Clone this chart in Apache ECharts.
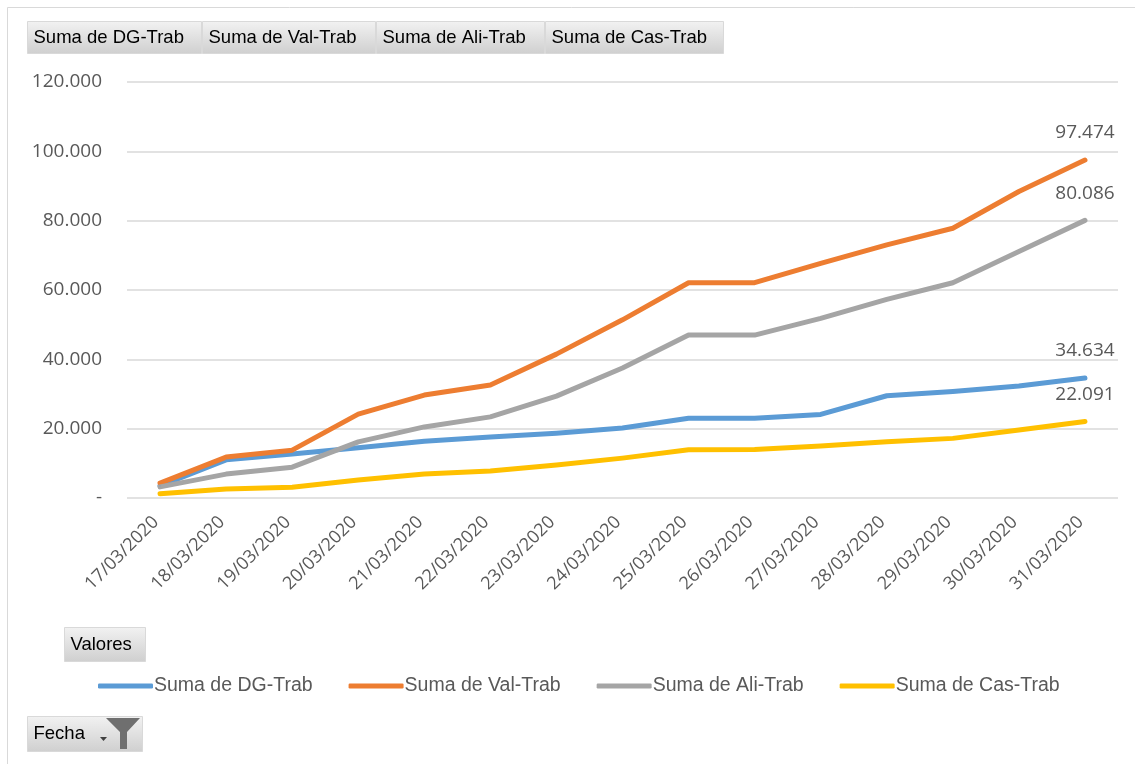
<!DOCTYPE html>
<html>
<head>
<meta charset="utf-8">
<script src="https://cdn.jsdelivr.net/npm/echarts@6/dist/echarts.min.js"></script>
<style>
  html, body { margin: 0; padding: 0; background: #fff; }
  #chart { width: 1135px; height: 764px; }
</style>
</head>
<body>
<div id="chart"></div>
<script>
const dates = ['17/03/2020', '18/03/2020', '19/03/2020', '20/03/2020', '21/03/2020', '22/03/2020', '23/03/2020',
  '24/03/2020', '25/03/2020', '26/03/2020', '27/03/2020', '28/03/2020', '29/03/2020', '30/03/2020', '31/03/2020']

const seriesNames = ['Suma de DG-Trab', 'Suma de Val-Trab', 'Suma de Ali-Trab', 'Suma de Cas-Trab']

const dgTrab = [3500, 11000, 12700, 14500, 16400, 17600, 18700, 20200, 23000, 23000, 24100, 29500, 30700, 32300, 34634]
const valTrab = [4300, 11800, 13800, 24200, 29700, 32600, 41500, 51400, 62100, 62100, 67700, 73000, 77800, 88400, 97474]
const aliTrab = [3200, 6900, 8900, 16200, 20500, 23400, 29400, 37500, 47000, 47000, 51800, 57300, 62100, 71100, 80086]
const casTrab = [1200, 2600, 3100, 5200, 6900, 7800, 9500, 11500, 13900, 14000, 15000, 16200, 17200, 19600, 22091]

const COLORS = ['#5B9BD5', '#ED7D31', '#A5A5A5', '#FFC000']
const FONT = '"Liberation Sans Narrow", "Liberation Sans", sans-serif'
const TEXT = '#595959'

const fmt = (v) => v === 0 ? '-' : String(v).replace(/\B(?=(\d{3})+(?!\d))/g, '.')

const chart = echarts.init(document.getElementById('chart'))

// the last point of each line carries its value
const makeSeries = (name, data, color) => ({
  name,
  type: 'line',
  data,
  symbol: 'circle',
  symbolSize: 1,
  showSymbol: true,
  lineStyle: { width: 5, color, cap: 'round', join: 'round' },
  itemStyle: { color },
  label: {
    show: true,
    position: 'top',
    distance: 17,
    color: TEXT,
    fontSize: 19,
    fontFamily: '"Open Sans", sans-serif',
    formatter: (p) => p.dataIndex === data.length - 1 ? fmt(p.value) : ''
  }
})

const button = (x, y, w, h, text) => ({
  type: 'group',
  left: x,
  top: y,
  children: [
    {
      type: 'rect',
      shape: { x: 0, y: 0, width: w, height: h },
      style: {
        fill: new echarts.graphic.LinearGradient(0, 0, 0, 1, [
          { offset: 0, color: '#f2f2f2' },
          { offset: 1, color: '#cfcfcf' }
        ]),
        stroke: '#d9d9d9',
        lineWidth: 1
      }
    },
    {
      type: 'text',
      style: {
        text,
        x: 6,
        y: h / 2,
        verticalAlign: 'middle',
        fill: '#000',
        fontSize: 18.5,
        fontFamily: FONT
      }
    }
  ]
})

chart.setOption({
  backgroundColor: '#ffffff',
  animation: false,
  grid: { left: 127, right: 17, top: 82, bottom: 266 },
  xAxis: {
    type: 'category',
    data: dates,
    boundaryGap: true,
    axisLine: { show: false },
    axisTick: { show: false },
    axisLabel: {
      rotate: 45,
      interval: 0,
      color: TEXT,
      fontSize: 18,
      fontFamily: '"Open Sans", sans-serif',
      margin: 17,
      padding: [0, 6, 0, 0]
    }
  },
  yAxis: {
    type: 'value',
    min: 0,
    max: 120000,
    interval: 20000,
    axisLine: { show: false },
    axisTick: { show: false },
    splitLine: { lineStyle: { color: '#d9d9d9', width: 1.5 } },
    axisLabel: {
      color: TEXT,
      fontSize: 19,
      fontFamily: '"Open Sans", sans-serif',
      margin: 25,
      formatter: fmt
    }
  },
  legend: {
    left: 93,
    top: 671,
    itemWidth: 55,
    itemHeight: 5,
    itemGap: 36,
    icon: 'roundRect',
    textStyle: { color: TEXT, fontSize: 19.5, fontFamily: FONT, padding: [0, 0, 0, -4] },
    data: seriesNames
  },
  series: [
    makeSeries(seriesNames[0], dgTrab, COLORS[0]),
    makeSeries(seriesNames[1], valTrab, COLORS[1]),
    makeSeries(seriesNames[2], aliTrab, COLORS[2]),
    makeSeries(seriesNames[3], casTrab, COLORS[3])
  ],
  graphic: [
    {
      type: 'rect',
      left: 5,
      top: 5,
      shape: { width: 1140, height: 757 },
      style: { fill: 'none', stroke: '#d9d9d9', lineWidth: 1 },
      silent: true
    },
    button(27, 21, 174, 32, seriesNames[0]),
    button(202, 21, 173, 32, seriesNames[1]),
    button(376, 21, 168, 32, seriesNames[2]),
    button(545, 21, 178, 32, seriesNames[3]),
    button(64, 627, 81, 34, 'Valores'),
    button(27, 716, 115, 35, 'Fecha'),
    {
      type: 'polygon',
      left: 106,
      top: 718,
      shape: { points: [[0, 0], [34, 0], [21, 14], [21, 31], [14, 31], [14, 14]] },
      style: { fill: '#6f6f6f' }
    },
    {
      type: 'polygon',
      left: 100,
      top: 737,
      shape: { points: [[0, 0], [7, 0], [3.5, 4]] },
      style: { fill: '#404040' }
    }
  ]
})
</script>
</body>
</html>
